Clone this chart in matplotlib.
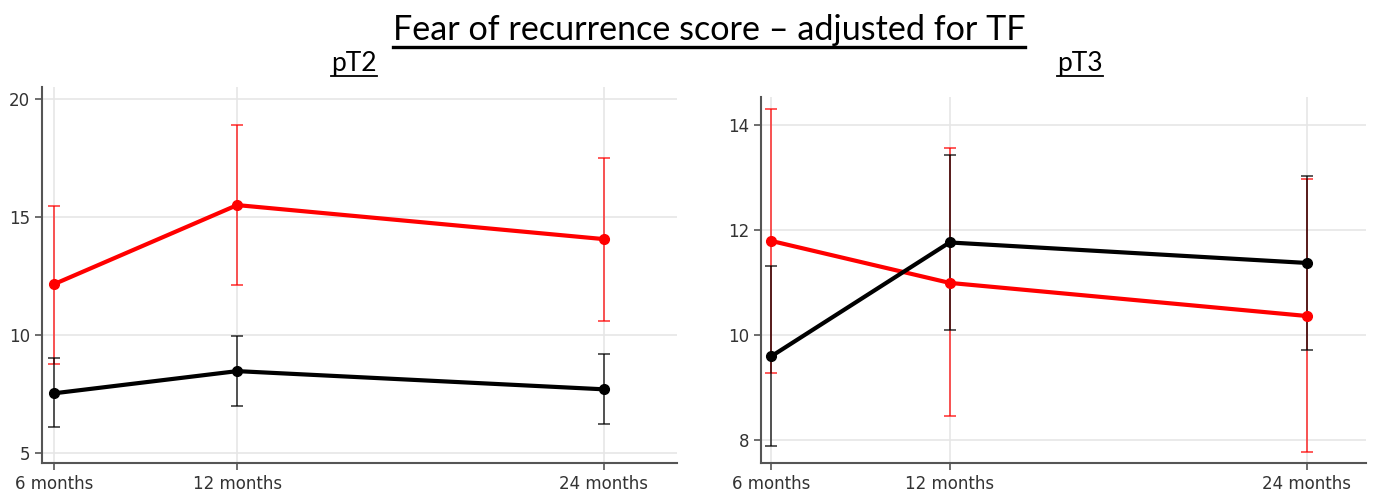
import matplotlib
matplotlib.use("Agg")
import matplotlib.pyplot as plt
from matplotlib.lines import Line2D

plt.rcParams["font.family"] = ["DejaVu Sans"]

# ---- data ----
months = [6, 12, 24]
tick_labels = ["6 months", "12 months", "24 months"]

pt2_red = [12.15, 15.50, 14.06]
pt2_red_lo = [8.77, 12.12, 10.60]
pt2_red_hi = [15.48, 18.88, 17.50]
pt2_black = [7.53, 8.47, 7.70]
pt2_black_lo = [6.09, 6.99, 6.22]
pt2_black_hi = [9.04, 9.96, 9.19]

pt3_red = [11.80, 11.00, 10.37]
pt3_red_lo = [9.29, 8.46, 7.77]
pt3_red_hi = [14.32, 13.56, 12.98]
pt3_black = [9.60, 11.77, 11.38]
pt3_black_lo = [7.89, 10.10, 9.72]
pt3_black_hi = [11.32, 13.44, 13.03]

pt2_yticks = [5, 10, 15, 20]
pt3_yticks = [8, 10, 12, 14]

title = "Fear of recurrence score \u2013 adjusted for TF"
sub_titles = ["pT2", "pT3"]

W, H = 1373, 491
fig = plt.figure(figsize=(W / 100, H / 100), dpi=100)


def px_axes(l, t, r, b):
    return fig.add_axes([l / W, 1 - b / H, (r - l) / W, (b - t) / H])


ax1 = px_axes(42, 87, 677, 463)
ax2 = px_axes(761, 97, 1366, 463)


def draw(ax, red, rlo, rhi, blk, blo, bhi, yticks, ylim, xlim):
    for vals, lo, hi, col, z in [(red, rlo, rhi, "#ff0000", 3), (blk, blo, bhi, "#000000", 4)]:
        yerr = [[v - l for v, l in zip(vals, lo)], [h - v for v, h in zip(vals, hi)]]
        ax.errorbar(months, vals, yerr=yerr, fmt="none", ecolor=col, elinewidth=1.3,
                    capsize=4, capthick=1.3, alpha=0.7, zorder=z)
        ax.plot(months, vals, color=col, lw=3, marker="o", ms=7, zorder=z + 2)
    ax.set_xlim(*xlim)
    ax.set_ylim(*ylim)
    ax.set_xticks(months)
    ax.set_xticklabels(tick_labels)
    ax.set_yticks(yticks)
    ax.grid(True, color="#e6e6e6", lw=1.2, zorder=0)
    ax.set_axisbelow(True)
    for s in ["top", "right"]:
        ax.spines[s].set_visible(False)
    for s in ["left", "bottom"]:
        ax.spines[s].set_color("#555555")
        ax.spines[s].set_linewidth(1.5)
    ax.tick_params(axis="both", colors="#555555", labelcolor="#333333", labelsize=12,
                   length=5, width=1.2)
    for lab in ax.get_xticklabels() + ax.get_yticklabels():
        lab.set_family("DejaVu Sans")


draw(ax1, pt2_red, pt2_red_lo, pt2_red_hi, pt2_black, pt2_black_lo, pt2_black_hi,
     pt2_yticks, (4.58, 20.5), (5.61, 26.4))
draw(ax2, pt3_red, pt3_red_lo, pt3_red_hi, pt3_black, pt3_black_lo, pt3_black_hi,
     pt3_yticks, (7.57, 14.54), (5.66, 26.0))

fonts = ["Lato", "DejaVu Sans"]


def underlined(x, y, s, size, uline_y, lw):
    t = fig.text(x / W, 1 - y / H, s, ha="center", va="baseline", fontsize=size,
                 family=fonts, color="black")
    fig.canvas.draw()
    bb = t.get_window_extent()
    fig.add_artist(Line2D([bb.x0 / W, bb.x1 / W], [1 - uline_y / H, 1 - uline_y / H],
                          color="black", lw=lw, transform=fig.transFigure))
    return t


underlined(709, 40, title, 24.6, 46.5, 2.4)
underlined(354, 71, sub_titles[0], 19, 76, 1.3)
underlined(1080, 71, sub_titles[1], 19, 76, 1.3)

fig.savefig("out.png", dpi=100)
